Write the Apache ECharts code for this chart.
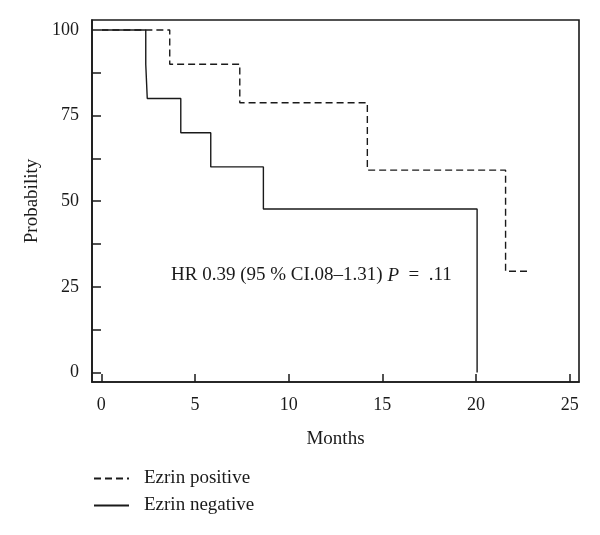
<!DOCTYPE html>
<html>
<head>
<meta charset="utf-8">
<script src="https://cdn.jsdelivr.net/npm/echarts@6/dist/echarts.min.js"></script>
<style>html,body{margin:0;padding:0;background:#fff;}#c{width:600px;height:535px;}</style>
</head>
<body>
<div id="c"></div>
<script>
// Kaplan-Meier steps (months, probability %)
const posTimes = [0, 3.65, 7.39, 14.2, 21.58, 22.84];
const posProb  = [100, 90, 78.75, 59.06, 29.53, 29.53];
const negTimes = [0, 2.37, 2.45, 4.24, 5.84, 8.65, 20.06];
const negProb  = [100, 90, 80, 70, 60, 47.7, 0];
const xTicks = [0, 5, 10, 15, 20, 25];
const yTickMarks = [0, 12.5, 25, 37.5, 50, 62.5, 75, 87.5, 100];
const yTickLabels = [0, 25, 50, 75, 100];
const seriesNames = ['Ezrin positive', 'Ezrin negative'];
const annotation = 'HR 0.39 (95 % CI.08–1.31) ';

const FONT = '"Liberation Serif", "Times New Roman", serif';
const ink = '#1a1a1a';
const zip = (a, b) => a.map((v, i) => [v, b[i]]);

const chart = echarts.init(document.getElementById('c'));
chart.setOption({
  animation: false,
  backgroundColor: '#fff',
  textStyle: { fontFamily: FONT, color: ink },
  grid: { left: 92, top: 20, right: 21, bottom: 153, show: true, borderColor: ink, borderWidth: 1.6, containLabel: false },
  xAxis: {
    type: 'value', min: -0.5, max: 25.5,
    name: 'Months', nameLocation: 'middle', nameGap: 48,
    nameTextStyle: { fontFamily: FONT, fontSize: 19, color: ink },
    axisLine: { show: true, onZero: false, lineStyle: { color: ink, width: 1.6 } },
    axisTick: { show: true, inside: true, length: 8, lineStyle: { color: ink, width: 1.5 }, customValues: xTicks },
    axisLabel: { fontFamily: FONT, fontSize: 18, color: ink, margin: 14, customValues: xTicks },
    splitLine: { show: false }
  },
  yAxis: {
    type: 'value', min: -2.8, max: 102.9,
    name: 'Probability', nameLocation: 'middle', nameGap: 48, nameRotate: 90,
    nameTextStyle: { fontFamily: FONT, fontSize: 19, color: ink },
    axisLine: { show: true, onZero: false, lineStyle: { color: ink, width: 1.6 } },
    axisTick: { show: true, inside: true, length: 9, lineStyle: { color: ink, width: 1.5 }, customValues: yTickMarks },
    axisLabel: { fontFamily: FONT, fontSize: 18, color: ink, margin: 13, customValues: yTickLabels },
    splitLine: { show: false }
  },
  legend: {
    orient: 'vertical', left: 88, top: 464,
    itemWidth: 35, itemHeight: 17, itemGap: 8,
    itemStyle: { opacity: 0 },
    textStyle: { fontFamily: FONT, fontSize: 19, color: ink, padding: [0, 0, 0, 10] },
    data: seriesNames
  },
  series: [
    {
      name: seriesNames[0], type: 'line', step: 'end', symbol: 'none',
      data: zip(posTimes, posProb),
      lineStyle: { color: ink, width: 1.4, type: [7, 4] },
      itemStyle: { color: ink }
    },
    {
      name: seriesNames[1], type: 'line', step: 'end', symbol: 'none',
      data: zip(negTimes, negProb),
      lineStyle: { color: ink, width: 1.4, type: 'solid' },
      itemStyle: { color: ink }
    }
  ],
  graphic: [{
    type: 'text', left: 171, top: 266,
    style: {
      text: annotation + '{i|P}  =  .11',
      font: '19px ' + FONT, fill: ink,
      rich: { i: { fontStyle: 'italic', fontFamily: FONT, fontSize: 19, fill: ink } }
    }
  }]
});
</script>
</body>
</html>
